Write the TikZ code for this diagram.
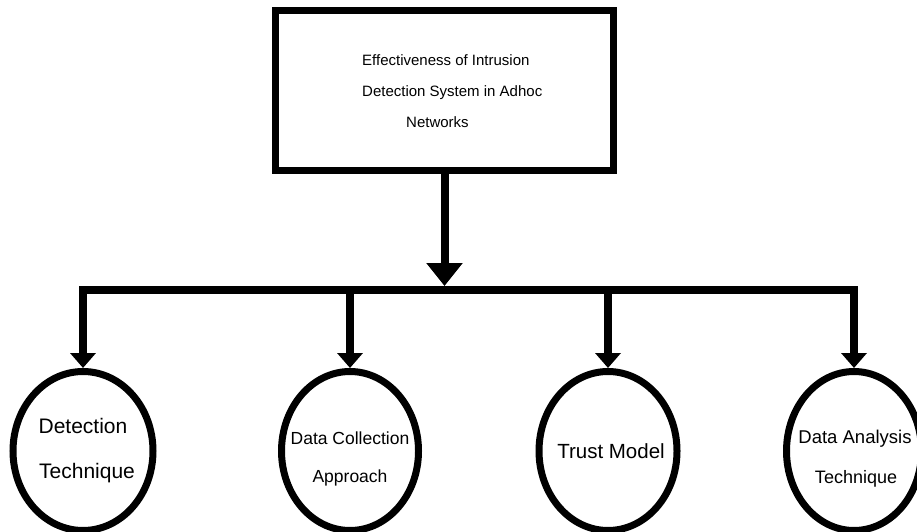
\documentclass[tikz,border=0pt]{standalone}
\usepackage{fontspec}
\setmainfont{Liberation Sans}
\usetikzlibrary{arrows.meta,shapes.geometric}
\tikzset{
  topbox/.style={draw=black,line width=7pt,rectangle,minimum width=338pt,minimum height=160pt,inner sep=0pt,fill=white},
  oval/.style={draw=black,line width=7pt,ellipse,minimum height=159pt,inner sep=0pt,fill=white},
  link/.style={line width=8pt,draw=black},
  smalltip/.style={-{Triangle[width=25pt,length=15pt]}},
  bigtip/.style={-{Triangle[width=35pt,length=23pt]}},
  boxtext/.style={anchor=base west,inner sep=0pt,font=\fontsize{15}{18}\selectfont},
  ovaltext/.style={anchor=base,inner sep=0pt},
}
\begin{document}
\begin{tikzpicture}[x=1pt,y=-1pt]
\useasboundingbox[fill=white] (0,0) rectangle (917,532);
% top box
\node[topbox] (box) at (444.5,90.5) {};
\node[boxtext] (l1) at (362,66) {Effectiveness of Intrusion};
\node[boxtext] (l2) at (362,97) {Detection System in Adhoc};
\node[boxtext] (l3) at (406,128) {Networks};
% hub coordinates
\coordinate (hubtop) at (444.5,286);
\coordinate (hub) at (444.5,290);
% ellipses
\node[oval,minimum width=140pt] (e1) at (83,451) {};
\node[oval,minimum width=137pt] (e2) at (350,451) {};
\node[oval,minimum width=138pt] (e3) at (608,451) {};
\node[oval,minimum width=135pt] (e4) at (854,451) {};
% texts
\node[ovaltext,font=\fontsize{21}{24}\selectfont] (t1a) at (83,433) {Detection};
\node[ovaltext,font=\fontsize{21}{24}\selectfont] (t1b) at (87,478) {Technique};
\node[ovaltext,font=\fontsize{17.5}{20}\selectfont] (t2a) at (350,444) {Data Collection};
\node[ovaltext,font=\fontsize{17.5}{20}\selectfont] (t2b) at (350,482) {Approach};
\node[ovaltext,font=\fontsize{20.5}{24}\selectfont] (t3a) at (611,458) {Trust Model};
\node[ovaltext,font=\fontsize{18.5}{22}\selectfont] (t4a) at (855,443) {Data Analysis};
\node[ovaltext,font=\fontsize{18}{22}\selectfont] (t4b) at (856,483) {Technique};
% connectors
\draw[link,bigtip] (box.south) -- (hubtop);
\draw[link,smalltip] (hub) -| (e1.north);
\draw[link,smalltip] (hub) -| (e2.north);
\draw[link,smalltip] (hub) -| (e3.north);
\draw[link,smalltip] (hub) -| (e4.north);
\end{tikzpicture}
\end{document}
